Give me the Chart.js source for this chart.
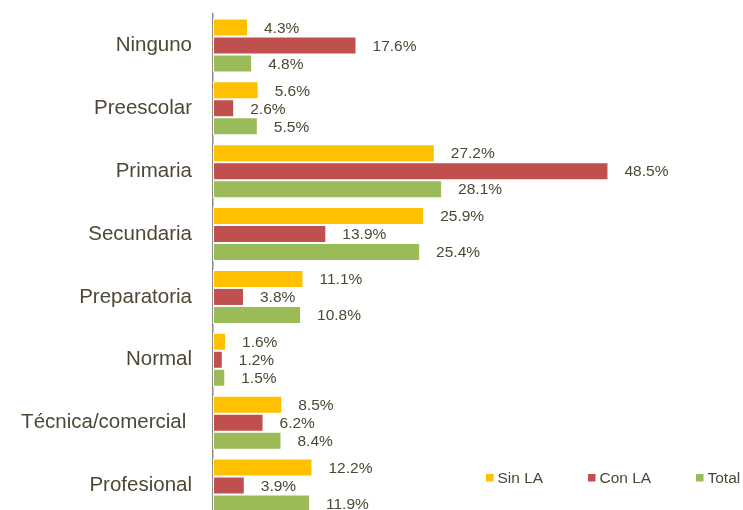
<!doctype html>
<html>
<head>
  <meta charset="utf-8">
  <title>Escolaridad</title>
  <script src="https://cdn.jsdelivr.net/npm/chart.js@4.4.1/dist/chart.umd.min.js"></script>
  <style>
    html, body { margin: 0; padding: 0; overflow: hidden; background: #fff; }
    #chart { display: block; }
  </style>
</head>
<body>
<canvas id="chart" width="743" height="517"></canvas>
<script>
  const categories = ['Ninguno', 'Preescolar', 'Primaria', 'Secundaria', 'Preparatoria', 'Normal', 'Técnica/comercial ', 'Profesional'];
  const sinLA = [4.3, 5.6, 27.2, 25.9, 11.1, 1.6, 8.5, 12.2];
  const conLA = [17.6, 2.6, 48.5, 13.9, 3.8, 1.2, 6.2, 3.9];
  const total = [4.8, 5.5, 28.1, 25.4, 10.8, 1.5, 8.4, 11.9];
  const seriesNames = ['Sin LA', 'Con LA', 'Total'];
  const seriesColors = ['#FFC000', '#C0504D', '#9BBB59'];

  const textColor = '#4d4834';
  const fontFamily = '"Liberation Sans", Arial, sans-serif';

  // value labels to the right of each bar
  const valueLabels = {
    id: 'valueLabels',
    afterDatasetsDraw(chart) {
      const ctx = chart.ctx;
      ctx.save();
      ctx.font = '15.5px ' + fontFamily;
      ctx.fillStyle = textColor;
      ctx.textAlign = 'left';
      ctx.textBaseline = 'middle';
      chart.data.datasets.forEach(function (ds, i) {
        chart.getDatasetMeta(i).data.forEach(function (bar, j) {
          ctx.fillText(ds.data[j].toFixed(1) + '%', bar.x + 16, bar.y + 1);
        });
      });
      ctx.restore();
    }
  };

  // legend sitting inside the plot, bottom right
  const legendBox = {
    id: 'legendBox',
    afterDraw(chart) {
      const ctx = chart.ctx;
      const xs = [486, 588, 696];
      ctx.save();
      ctx.font = '15.5px ' + fontFamily;
      ctx.textBaseline = 'middle';
      ctx.textAlign = 'left';
      seriesNames.forEach(function (name, i) {
        ctx.fillStyle = seriesColors[i];
        ctx.fillRect(xs[i], 474, 7.5, 7.5);
        ctx.fillStyle = textColor;
        ctx.fillText(name, xs[i] + 11.5, 478.5);
      });
      ctx.restore();
    }
  };

  new Chart(document.getElementById('chart'), {
    type: 'bar',
    data: {
      labels: categories,
      datasets: [
        { label: seriesNames[0], data: sinLA, backgroundColor: seriesColors[0] },
        { label: seriesNames[1], data: conLA, backgroundColor: seriesColors[1] },
        { label: seriesNames[2], data: total, backgroundColor: seriesColors[2] }
      ]
    },
    options: {
      indexAxis: 'y',
      responsive: false,
      animation: false,
      events: [],
      layout: { padding: { top: 14, bottom: 0, left: 0, right: 0 } },
      datasets: {
        bar: {
          categoryPercentage: 0.86,
          barPercentage: 1.0,
          borderColor: '#ffffff',
          borderWidth: 1,
          borderSkipped: false
        }
      },
      plugins: {
        legend: { display: false },
        tooltip: { enabled: false }
      },
      scales: {
        x: {
          display: false,
          min: 0,
          max: 65
        },
        y: {
          afterFit: function (s) {
            s.width = 213;
            s.paddingTop = 0;
            s.paddingBottom = 0;
          },
          grid: { display: false, drawTicks: false },
          border: { display: true, color: '#8c8c8c', width: 1.5 },
          ticks: {
            padding: 21,
            color: textColor,
            font: { family: fontFamily, size: 20.5 }
          }
        }
      }
    },
    plugins: [valueLabels, legendBox]
  });
</script>
</body>
</html>
